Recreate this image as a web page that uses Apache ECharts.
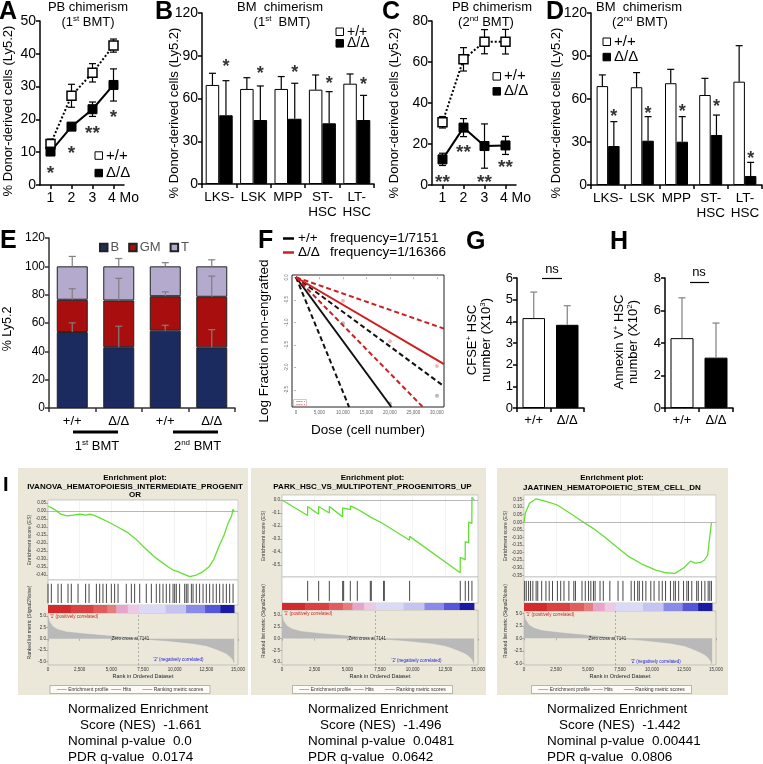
<!DOCTYPE html>
<html><head><meta charset="utf-8"><title>Figure</title>
<script src="https://cdn.jsdelivr.net/npm/echarts@6/dist/echarts.min.js"></script>
<style>html,body{margin:0;padding:0;background:#fff}#c{width:763px;height:764px}</style>
</head><body><div id="c"></div>
<script>
// ================= DATA =================
// Panel A: PB chimerism (1st BMT)
const aMonths = ['1', '2', '3', '4 Mo'];
const aWT = [12.5, 27.2, 34.2, 42.5];
const aWTerr = [1.5, 3.5, 2.8, 2.0];
const aKO = [10.2, 17.8, 23.1, 30.5];
const aKOerr = [1.0, 1.0, 2.2, 4.9];
const aStarVal = [5.2, 11.3, 17.4, 22.3];
const aStarTxt = ['*', '*', '**', '*'];
// Panel C: PB chimerism (2nd BMT)
const cMonths = ['1', '2', '3', '4 Mo'];
const cWT = [30.6, 61.3, 69.9, 69.9];
const cWTerr = [2.8, 5.7, 5.9, 6.0];
const cKO = [12.5, 28.0, 19.0, 19.3];
const cKOerr = [3.0, 4.4, 10.8, 4.4];
const cStarVal = [4.1, 18.7, 4.1, 11.4];
const cStarTxt = ['**', '**', '**', '**'];
// Panels B, D: BM chimerism
const popCats = ['LKS-', 'LSK', 'MPP', 'ST-\nHSC', 'LT-\nHSC'];
const bWT = [69.5, 66.7, 66.7, 66.2, 70.4];
const bWTtop = [77.7, 74.6, 75.4, 76.5, 77.2];
const bKO = [48.2, 44.9, 45.8, 42.6, 44.9];
const bKOtop = [72.5, 68.8, 70.7, 64.8, 62.2];
const bStarVal = [85.6, 80.7, 82.0, 74.0, 73.5];
const dWT = [69.0, 68.2, 71.0, 62.8, 72.1];
const dWTtop = [76.8, 78.4, 80.7, 74.4, 97.2];
const dKO = [27.2, 30.9, 30.2, 34.9, 6.3];
const dKOtop = [44.2, 47.7, 47.7, 48.8, 15.8];
const dStarVal = [51.0, 53.5, 55.0, 58.0, 21.6];
// Panel E: lineage composition
const eCats = ['+/+', 'Δ/Δ', '+/+', 'Δ/Δ'];
const eB = [53.6, 42.9, 54.6, 42.8];
const eGM = [22.8, 33.0, 24.3, 35.7];
const eT = [23.6, 24.1, 21.1, 21.5];
const eBerrTop = [60.1, 57.7, 58.4, 55.3];
const eGMerrTop = [84.2, 91.5, 82.0, 93.1];
const eTerrTop = [107.0, 105.5, 102.6, 104.6];
// Panel F: limiting dilution (endpoints)
const fDoseTicks = [0, 5000, 10000, 15000, 20000, 25000, 30000];
const fLogTicks = [0, -0.5, -1.0, -1.5, -2.0, -2.5];
const fWTest = [[0, 0], [20300, -2.88]];
const fWTlow = [[0, 0], [11300, -2.88]];
const fWThigh = [[0, 0], [31500, -2.42]];
const fKOest = [[0, 0], [31500, -1.93]];
const fKOlow = [[0, 0], [27000, -2.88]];
const fKOhigh = [[0, 0], [31500, -1.14]];
const fPtsKO = [[10000, -0.52], [20000, -1.42], [30000, -1.97]];
const fPtsWT = [[10000, -1.02], [20000, -2.80], [30000, -2.63]];
// Panels G, H
const ghCats = ['+/+', 'Δ/Δ'];
const gVals = [4.15, 3.84];
const gErrTop = [5.35, 4.72];
const hVals = [4.3, 3.1];
const hErrTop = [6.78, 5.23];
// Panel I: GSEA
const gseaTitle = [
  ['Enrichment plot:', 'IVANOVA_HEMATOPOIESIS_INTERMEDIATE_PROGENIT', 'OR'],
  ['Enrichment plot:', 'PARK_HSC_VS_MULTIPOTENT_PROGENITORS_UP'],
  ['Enrichment plot:', 'JAATINEN_HEMATOPOIETIC_STEM_CELL_DN']
];
const es1R = [0, 300, 700, 1000, 1500, 2000, 2500, 3000, 3300, 3600, 4000, 4800, 5500, 6200, 7000, 7500, 8300, 8800, 9500, 9900, 10300, 10900, 11200, 11700, 12200, 12700, 13100, 13500, 13900, 14200, 14500, 14600, 14700];
const es1V = [0.03, 0.02, 0.0, -0.02, -0.03, -0.025, -0.02, -0.025, -0.02, -0.025, -0.04, -0.07, -0.10, -0.13, -0.18, -0.22, -0.28, -0.31, -0.35, -0.37, -0.38, -0.40, -0.41, -0.40, -0.38, -0.35, -0.30, -0.22, -0.15, -0.08, -0.03, 0.01, 0.0];
const es2R = [0, 1960, 1965, 2800, 2805, 3620, 3625, 4640, 4645, 4715, 4720, 5225, 5230, 5760, 5765, 6750, 6755, 6830, 6835, 7775, 7780, 9760, 9765, 13640, 13645, 14020, 14025, 14280, 14285, 14530, 14535, 14700];
const es2V = [0, -0.12, -0.05, -0.11, -0.05, -0.10, -0.05, -0.13, -0.06, -0.07, -0.05, -0.075, -0.046, -0.07, -0.06, -0.13, -0.12, -0.13, -0.12, -0.185, -0.175, -0.31, -0.28, -0.56, -0.44, -0.46, -0.32, -0.33, -0.17, -0.18, 0.02, 0.0];
const es3R = [0, 100, 430, 950, 1400, 1850, 2600, 3600, 4500, 5400, 6200, 7200, 8200, 9300, 10300, 11100, 11800, 12500, 13000, 13400, 13800, 14100, 14350, 14480, 14640];
const es3V = [0, 0.06, 0.125, 0.155, 0.145, 0.135, 0.114, 0.06, 0.008, -0.04, -0.09, -0.16, -0.227, -0.28, -0.315, -0.333, -0.337, -0.30, -0.256, -0.27, -0.265, -0.249, -0.216, -0.117, -0.005];
const hits1 = [0, 263, 790, 1050, 1580, 1840, 2370, 2970, 3240, 3820, 4080, 4340, 4610, 5000, 5260, 5530, 6180, 6580, 6840, 7240, 7760, 8160, 8550, 8820, 9080, 9340, 9610, 9870, 10000, 10130, 10390, 10790, 10920, 11050, 11320, 11450, 11710, 11970, 12240, 12500, 12760, 13030, 13290, 13550, 13820, 14080, 14340, 14610];
const hits2 = [1964, 2805, 3621, 4641, 4718, 5228, 5763, 6758, 6834, 7778, 7829, 9767, 13643, 14025, 14280, 14535];
const hits3 = [51, 179, 358, 512, 691, 947, 1075, 1382, 1715, 1971, 2227, 2611, 2867, 3123, 3507, 3891, 4019, 4531, 4787, 5043, 5222, 5427, 5555, 5939, 6195, 6707, 7347, 7731, 8371, 8627, 8883, 9011, 9267, 9523, 9907, 10163, 10547, 10803, 11059, 11443, 11699, 11827, 12083, 12467, 12723, 12851, 13107, 13491, 13619, 13875, 14131, 14387, 14515, 14643];
const metricR = [0, 100, 400, 800, 1450, 3000, 4870, 6700, 7141, 9340, 11450, 12500, 13030, 13600, 14080, 14400, 14600, 14700];
const metricV = [4.8, 3.8, 2.6, 2.0, 1.5, 1.05, 0.6, 0.15, 0, -0.4, -1.0, -1.5, -2.0, -2.6, -3.2, -3.9, -4.6, -5.3];
const metricTicks = [5, 2.5, 0, -2.5, -5];
const cbStart = [0, 1800, 3600, 4700, 5400, 6300, 7200, 9300, 10900, 12400, 13600];
const cbEnd = [1800, 3600, 4700, 5400, 6300, 7200, 9300, 10900, 12400, 13600, 14700];
const zeroCross = 7141;
const nesVal = ['-1.661', '-1.496', '-1.442'];
const pVal = ['0.0', '0.0481', '0.00441'];
const qVal = ['0.0174', '0.0642', '0.0806'];

// ================= STYLE / LAYOUT =================
const FONT = '"Liberation Sans", Arial, Helvetica, sans-serif';
const BLK = '#000';
const cbColors = ['#d32b2b', '#da4242', '#e05d5d', '#e57d7d', '#e8a5cb', '#eec9e6', '#dadaf6', '#c4c4f0', '#8a8ae8', '#5656d8', '#1a1aa4'];
const gCfg = [
  {bgX: 18, bgW: 230, pL: 48, pW: 190, titleX: 135, titleY: [478, 486.5, 494.5], esTop: 500, esH: 80, esMin: -0.431, esMax: 0.069,
   esTicks: [0.05, 0, -0.05, -0.1, -0.15, -0.2, -0.25, -0.3, -0.35, -0.4], esDec: 2, hitsTop: 580, hitsH: 25, cbTop: 605, cbH: 8,
   mTop: 613, mH: 52, mMin: -5.73, mMax: 5.66, textX: 68, legX: 130},
  {bgX: 251, bgW: 235, pL: 282, pW: 196, titleX: 372.5, titleY: [478, 487], esTop: 495, esH: 82, esMin: -0.592, esMax: 0.038,
   esTicks: [0, -0.1, -0.2, -0.3, -0.4, -0.5], esDec: 1, hitsTop: 577, hitsH: 26, cbTop: 603, cbH: 7,
   mTop: 610, mH: 55, mMin: -5.58, mMax: 6.05, textX: 308, legX: 372.5},
  {bgX: 497, bgW: 231, pL: 524, pW: 192, titleX: 612, titleY: [478, 488], esTop: 495, esH: 82, esMin: -0.361, esMax: 0.18,
   esTicks: [0.15, 0.1, 0.05, 0, -0.05, -0.1, -0.15, -0.2, -0.25, -0.3, -0.35], esDec: 2, hitsTop: 577, hitsH: 26, cbTop: 603, cbH: 8,
   mTop: 611, mH: 54, mMin: -5.34, mMax: 5.46, textX: 547, legX: 611.5}
];

const opt = {animation: false, backgroundColor: '#fff', textStyle: {fontFamily: FONT},
  grid: [], xAxis: [], yAxis: [], series: [], legend: [], graphic: []};

function addGrid(g, xa, ya) {
  const i = opt.grid.length;
  opt.grid.push(Object.assign({containLabel: false, show: false}, g));
  opt.xAxis.push(Object.assign({gridIndex: i}, xa));
  opt.yAxis.push(Object.assign({gridIndex: i}, ya));
  return i;
}
function valAxis(min, max, interval, fs, color) {
  color = color || BLK;
  return {type: 'value', min: min, max: max, interval: interval,
    axisLine: {show: true, lineStyle: {color: color, width: 1.5}},
    axisTick: {show: true, length: 4, lineStyle: {color: color, width: 1.5}},
    splitLine: {show: false},
    axisLabel: {color: BLK, fontSize: fs, margin: 4, fontFamily: FONT}};
}
function catAxis(data, fs, extra, color) {
  color = color || BLK;
  const a = {type: 'category', data: data, boundaryGap: true,
    axisLine: {show: true, lineStyle: {color: color, width: 1.5}},
    axisTick: {show: true, length: 4, lineStyle: {color: color, width: 1.5}},
    axisLabel: {color: BLK, fontSize: fs, margin: 6, fontFamily: FONT, interval: 0, lineHeight: 15},
    splitLine: {show: false}};
  if (extra) {
    if (extra.axisLabel) Object.assign(a.axisLabel, extra.axisLabel);
    if (extra.axisTick) Object.assign(a.axisTick, extra.axisTick);
  }
  return a;
}
function txt(text, x, y, o) {
  o = o || {};
  const st = {text: text, fill: o.color || '#000', fontSize: o.fs || 13, fontFamily: FONT,
    fontWeight: o.bold ? 'bold' : 'normal', textAlign: o.align || 'center', textVerticalAlign: o.va || 'middle',
    align: o.align || 'center', verticalAlign: o.va || 'middle'};
  if (o.rich) st.rich = o.rich;
  if (o.lh) st.lineHeight = o.lh;
  opt.graphic.push({type: 'text', x: x, y: y, rotation: o.rot || 0, z: 100, silent: true, style: st});
}
function gline(x1, y1, x2, y2, color, w, dash) {
  const st = {stroke: color || '#000', lineWidth: w || 1};
  if (dash) st.lineDash = dash;
  opt.graphic.push({type: 'line', z: 100, silent: true, shape: {x1: x1, y1: y1, x2: x2, y2: y2}, style: st});
}
function grect(x, y, w, h, fill, stroke, lw, z) {
  opt.graphic.push({type: 'rect', z: z === undefined ? 100 : z, silent: true, shape: {x: x, y: y, width: w, height: h},
    style: {fill: fill || 'none', stroke: stroke || null, lineWidth: lw || 0}});
}
function supRich(fs, sfs) {
  return {n: {fontSize: fs, fontFamily: FONT, lineHeight: fs + 2}, s: {fontSize: sfs, fontFamily: FONT, verticalAlign: 'top', lineHeight: sfs}};
}
function errSeries(gi, data, o) {
  o = o || {};
  return {type: 'custom', xAxisIndex: gi, yAxisIndex: gi, z: o.z || 4, silent: true, data: data,
    renderItem: function (params, api) {
      const x = api.value(0), lo = api.value(1), hi = api.value(2);
      const ph = api.coord([x, hi]), pl = api.coord([x, lo]);
      const cx = ph[0] + (o.dx || 0), cw = o.cap || 3.5;
      const st = {stroke: o.color || '#000', lineWidth: o.lw || 1.2};
      const ch = [
        {type: 'line', shape: {x1: cx, y1: ph[1], x2: cx, y2: pl[1]}, style: st},
        {type: 'line', shape: {x1: cx - cw, y1: ph[1], x2: cx + cw, y2: ph[1]}, style: st}
      ];
      if (o.both) ch.push({type: 'line', shape: {x1: cx - cw, y1: pl[1], x2: cx + cw, y2: pl[1]}, style: st});
      return {type: 'group', children: ch};
    }};
}
function starSeries(gi, vals, texts, dx, fs) {
  return {type: 'scatter', xAxisIndex: gi, yAxisIndex: gi, symbolSize: 0, silent: true, z: 6,
    itemStyle: {color: 'transparent'},
    data: vals.map(function (v, i) { return {value: [i, v], label: {formatter: texts[i]}}; }),
    label: {show: true, position: 'inside', offset: [dx, fs * 0.3], fontSize: fs, fontWeight: 'bold', color: '#000', fontFamily: FONT}};
}
function squareLegend(x, y1, y2, fs) {
  grect(x, y1 - 3.7, 7.5, 7.5, '#fff', '#000', 1);
  txt('+/+', x + 11, y1, {fs: fs, align: 'left'});
  grect(x, y2 - 3.7, 7.5, 7.5, '#000', '#000', 1);
  txt('Δ/Δ', x + 11, y2, {fs: fs, align: 'left'});
}

// ================= PANEL A =================
const monthLabel = {formatter: function (v) { return v === '4 Mo' ? '{m|4 Mo}' : v; },
  rich: {m: {fontSize: 14, fontFamily: FONT, padding: [0, 0, 0, 20]}}};
const gA = addGrid({left: 40, top: 21, width: 84, height: 164},
  catAxis(aMonths, 14, {axisLabel: monthLabel, axisTick: {alignWithLabel: true}}), valAxis(0, 50, 10, 14));
opt.series.push(errSeries(gA, aWT.map(function (v, i) { return [i, v - aWTerr[i], v + aWTerr[i]]; }), {both: true}));
opt.series.push(errSeries(gA, aKO.map(function (v, i) { return [i, v - aKOerr[i], v + aKOerr[i]]; }), {both: true}));
opt.series.push({type: 'line', name: '+/+', xAxisIndex: gA, yAxisIndex: gA, data: aWT, z: 5, symbol: 'rect', symbolSize: 9, silent: true,
  lineStyle: {color: BLK, width: 2, type: [2, 2]}, itemStyle: {color: '#fff', borderColor: BLK, borderWidth: 1.5}});
opt.series.push({type: 'line', name: 'Δ/Δ', xAxisIndex: gA, yAxisIndex: gA, data: aKO, z: 5, symbol: 'rect', symbolSize: 9, silent: true,
  lineStyle: {color: BLK, width: 2}, itemStyle: {color: BLK, borderColor: BLK, borderWidth: 1}});
opt.series.push(starSeries(gA, aStarVal, aStarTxt, 0, 19));
squareLegend(95, 155.5, 173, 15);

// ================= PANEL C =================
const gC = addGrid({left: 432, top: 21, width: 84, height: 164},
  catAxis(cMonths, 14, {axisLabel: monthLabel, axisTick: {alignWithLabel: true}}), valAxis(0, 80, 20, 14));
opt.series.push(errSeries(gC, cWT.map(function (v, i) { return [i, v - cWTerr[i], v + cWTerr[i]]; }), {both: true}));
opt.series.push(errSeries(gC, cKO.map(function (v, i) { return [i, v - cKOerr[i], v + cKOerr[i]]; }), {both: true}));
opt.series.push({type: 'line', name: '+/+', xAxisIndex: gC, yAxisIndex: gC, data: cWT, z: 5, symbol: 'rect', symbolSize: 9, silent: true,
  lineStyle: {color: BLK, width: 2, type: [2, 2]}, itemStyle: {color: '#fff', borderColor: BLK, borderWidth: 1.5}});
opt.series.push({type: 'line', name: 'Δ/Δ', xAxisIndex: gC, yAxisIndex: gC, data: cKO, z: 5, symbol: 'rect', symbolSize: 9, silent: true,
  lineStyle: {color: BLK, width: 2}, itemStyle: {color: BLK, borderColor: BLK, borderWidth: 1}});
opt.series.push(starSeries(gC, cStarVal, cStarTxt, 0, 19));
squareLegend(493, 76.3, 91.3, 15);

// ================= PANEL B =================
const gB = addGrid({left: 202, top: 13, width: 172, height: 171}, catAxis(popCats, 13.5), valAxis(0, 120, 30, 14));
opt.series.push({type: 'bar', name: '+/+', xAxisIndex: gB, yAxisIndex: gB, data: bWT, barWidth: 13.5, barGap: '0%', silent: true,
  itemStyle: {color: '#fff', borderColor: BLK, borderWidth: 1}});
opt.series.push({type: 'bar', name: 'Δ/Δ', xAxisIndex: gB, yAxisIndex: gB, data: bKO, barWidth: 13.5, barGap: '0%', silent: true,
  itemStyle: {color: BLK, borderColor: BLK, borderWidth: 1}});
opt.series.push(errSeries(gB, bWT.map(function (v, i) { return [i, v, bWTtop[i]]; }), {dx: -6.75}));
opt.series.push(errSeries(gB, bKO.map(function (v, i) { return [i, v, bKOtop[i]]; }), {dx: 6.75}));
opt.series.push(starSeries(gB, bStarVal, popCats.map(function () { return '*'; }), 6.75, 18));
squareLegend(336, 31.7, 43.3, 14);

// ================= PANEL D =================
const gD = addGrid({left: 591, top: 13, width: 171, height: 172}, catAxis(popCats, 13.5), valAxis(0, 120, 30, 14));
opt.series.push({type: 'bar', name: '+/+', xAxisIndex: gD, yAxisIndex: gD, data: dWT, barWidth: 11.5, barGap: '0%', silent: true,
  itemStyle: {color: '#fff', borderColor: BLK, borderWidth: 1}});
opt.series.push({type: 'bar', name: 'Δ/Δ', xAxisIndex: gD, yAxisIndex: gD, data: dKO, barWidth: 11.5, barGap: '0%', silent: true,
  itemStyle: {color: BLK, borderColor: BLK, borderWidth: 1}});
opt.series.push(errSeries(gD, dWT.map(function (v, i) { return [i, v, dWTtop[i]]; }), {dx: -5.75}));
opt.series.push(errSeries(gD, dKO.map(function (v, i) { return [i, v, dKOtop[i]]; }), {dx: 5.75}));
opt.series.push(starSeries(gD, dStarVal, popCats.map(function () { return '*'; }), 5.75, 18));
squareLegend(603, 41.7, 57, 15);

// titles, letters, y-titles for top row
const r13 = supRich(13, 8);
txt('PB chimerism', 88, 7, {fs: 13});
txt('{n|(1}{s|st}{n| BMT)}', 88, 22, {rich: r13});
txt('BM  chimerism', 280, 7, {fs: 13});
txt('{n|(1}{s|st}{n|  BMT)}', 282, 22, {rich: r13});
txt('PB chimerism', 492, 7, {fs: 13});
txt('{n|(2}{s|nd}{n| BMT)}', 486, 22, {rich: r13});
txt('BM  chimerism', 639, 7, {fs: 13});
txt('{n|(2}{s|nd}{n| BMT)}', 640, 22, {rich: r13});
['A', 'B', 'C', 'D'].forEach(function (L, i) { txt(L, [-1, 155, 382, 546][i], 12, {fs: 25, bold: true, align: 'left'}); });
[[8, 111], [174, 113], [394, 113], [556, 113]].forEach(function (p) {
  txt('% Donor-derived cells (Ly5.2)', p[0], p[1], {fs: 13, rot: Math.PI / 2});
});

// ================= PANEL E =================
const gE = addGrid({left: 49, top: 238, width: 186, height: 170}, catAxis(eCats, 13, null, '#333'), valAxis(0, 120, 20, 12, '#333'));
const eCols = ['#1b2a5f', '#a80e0e', '#b4aacd'];
[['B', eB], ['GM', eGM], ['T', eT]].forEach(function (s, k) {
  opt.series.push({type: 'bar', name: s[0], stack: 'lin', xAxisIndex: gE, yAxisIndex: gE, data: s[1], barWidth: 31, silent: true,
    itemStyle: {color: eCols[k], borderColor: '#222', borderWidth: 1}});
});
opt.series.push(errSeries(gE, eB.map(function (v, i) { return [i, v, eBerrTop[i]]; }), {color: '#7f7f7f', z: 6}));
opt.series.push(errSeries(gE, eB.map(function (v, i) { return [i, v + eGM[i], eGMerrTop[i]]; }), {color: '#7f7f7f', z: 6}));
opt.series.push(errSeries(gE, eB.map(function (v, i) { return [i, v + eGM[i] + eT[i], eTerrTop[i]]; }), {color: '#7f7f7f', z: 6}));
opt.legend.push({left: 94, top: 236, itemWidth: 7.5, itemHeight: 7.5, itemGap: 9, icon: 'rect', selectedMode: false,
  textStyle: {fontSize: 13, color: '#555', fontFamily: FONT, padding: [0, 0, 0, -2]}, data: ['B', 'GM', 'T']});
txt('E', 0, 241.5, {fs: 25, bold: true, align: 'left'});
txt('% Ly5.2', 8, 329, {fs: 12.5, rot: Math.PI / 2});
gline(73, 432, 118, 432, '#000', 3);
gline(173, 432, 218, 432, '#000', 3);
txt('{n|1}{s|st}{n| BMT}', 97, 446, {rich: r13});
txt('{n|2}{s|nd}{n| BMT}', 197.5, 446, {rich: r13});

// ================= PANEL F =================
const gF = addGrid({left: 292, top: 275, width: 152, height: 132, show: true, borderColor: '#222', borderWidth: 1},
  {type: 'value', min: -850, max: 31500, axisLine: {show: false}, splitLine: {show: false},
   axisTick: {show: true, length: 2, customValues: fDoseTicks, lineStyle: {color: '#666', width: 0.5}},
   axisLabel: {customValues: fDoseTicks, fontSize: 4.5, color: '#666', margin: 3}},
  {type: 'value', min: -2.88, max: 0.05, axisLine: {show: false}, splitLine: {show: false},
   axisTick: {show: true, length: 2, customValues: fLogTicks, lineStyle: {color: '#666', width: 0.5}},
   axisLabel: {customValues: fLogTicks, fontSize: 4.5, color: '#666', margin: 3, rotate: 90, formatter: function (v) { return v.toFixed(1); }}});
[[fWTest, '#111', 'solid'], [fWTlow, '#111', [5, 3]], [fWThigh, '#111', [5, 3]],
 [fKOest, '#cc1f1f', 'solid'], [fKOlow, '#cc1f1f', [5, 3]], [fKOhigh, '#cc1f1f', [5, 3]]].forEach(function (L) {
  opt.series.push({type: 'line', xAxisIndex: gF, yAxisIndex: gF, data: L[0], symbol: 'none', silent: true,
    lineStyle: {color: L[1], width: 2, type: L[2]}});
});
opt.series.push({type: 'scatter', xAxisIndex: gF, yAxisIndex: gF, data: fPtsKO, symbolSize: 4, silent: true, itemStyle: {color: '#f2a5a5'}});
opt.series.push({type: 'scatter', xAxisIndex: gF, yAxisIndex: gF, data: fPtsWT, symbolSize: 4, silent: true, itemStyle: {color: '#a8a8a8'}});
grect(293.5, 399.5, 13, 6.5, '#fff', '#999', 0.5);
txt('Group 1', 296, 401.5, {fs: 2.5, align: 'left', color: '#333'});
txt('Group 2', 296, 404, {fs: 2.5, align: 'left', color: '#cc1f1f'});
txt('F', 258, 241, {fs: 25, bold: true, align: 'left'});
gline(283, 238.5, 294, 238.5, '#000', 2.5);
txt('+/+', 298, 238.5, {fs: 13.5, align: 'left'});
txt('frequency=1/7151', 330, 238.5, {fs: 13.5, align: 'left'});
gline(283, 252.5, 294, 252.5, '#cc1f1f', 2.5);
txt('Δ/Δ', 298, 252.5, {fs: 13.5, align: 'left'});
txt('frequency=1/16366', 330, 252.5, {fs: 13.5, align: 'left'});
txt('Log Fraction non-engrafted', 264, 341, {fs: 13.5, rot: Math.PI / 2});
txt('Dose (cell number)', 368, 430, {fs: 13.5});

// ================= PANEL G =================
const gG = addGrid({left: 517, top: 278, width: 67, height: 130}, catAxis(ghCats, 13, {axisLabel: {margin: 5}}), valAxis(0, 6, 1, 13));
opt.series.push({type: 'bar', xAxisIndex: gG, yAxisIndex: gG, barWidth: 22.5, silent: true,
  data: gVals.map(function (v, i) { return {value: v, itemStyle: {color: i ? BLK : '#fff', borderColor: BLK, borderWidth: 1}}; })});
opt.series.push(errSeries(gG, gVals.map(function (v, i) { return [i, v, gErrTop[i]]; }), {color: '#808080'}));
txt('G', 466, 242, {fs: 25, bold: true, align: 'left'});
txt('ns', 552, 269, {fs: 13});
gline(542, 278.5, 562, 278.5, '#000', 1.2);
txt('{n|CFSE}{s|+}{n| HSC}', 472, 340, {rot: Math.PI / 2, rich: supRich(13, 8)});
txt('{n|number (X10}{s|3}{n|)}', 486, 340, {rot: Math.PI / 2, rich: supRich(13, 8)});

// ================= PANEL H =================
const gH = addGrid({left: 665, top: 278, width: 68, height: 130}, catAxis(ghCats, 13, {axisLabel: {margin: 5}}), valAxis(0, 8, 2, 13));
opt.series.push({type: 'bar', xAxisIndex: gH, yAxisIndex: gH, barWidth: 23, silent: true,
  data: hVals.map(function (v, i) { return {value: v, itemStyle: {color: i ? BLK : '#fff', borderColor: BLK, borderWidth: 1}}; })});
opt.series.push(errSeries(gH, hVals.map(function (v, i) { return [i, v, hErrTop[i]]; }), {color: '#808080'}));
txt('H', 610, 242, {fs: 25, bold: true, align: 'left'});
txt('ns', 699, 272, {fs: 13});
gline(690, 282.5, 709, 282.5, '#000', 1.2);
txt('{n|Annexin V}{s|+}{n| HSC}', 619, 342, {rot: Math.PI / 2, rich: supRich(13, 8)});
txt('{n|number (X10}{s|2}{n|)}', 633, 342, {rot: Math.PI / 2, rich: supRich(13, 8)});

// ================= PANEL I (GSEA) =================
txt('I', 3, 485, {fs: 20, bold: true, align: 'left'});
function gsea(k, esR, esV, hits) {
  const c = gCfg[k];
  grect(c.bgX, 468, c.bgW, 227, '#ebe8d9', null, 0, -100);
  gseaTitle[k].forEach(function (t, i) { txt(t, c.titleX, c.titleY[i], {fs: 8, bold: true}); });
  const smallLab = {fontSize: 4.5, color: '#333', margin: 2, fontFamily: FONT};
  // ES panel
  const ge = addGrid({left: c.pL, top: c.esTop, width: c.pW, height: c.esH, show: true, backgroundColor: '#fff', borderColor: '#999', borderWidth: 0.5},
    {type: 'value', min: 0, max: 15000, interval: 2500, axisLine: {show: false}, axisTick: {show: false}, axisLabel: {show: false},
     splitLine: {show: true, lineStyle: {color: '#e6e6e6', width: 0.5}}},
    {type: 'value', min: c.esMin, max: c.esMax, axisLine: {show: false}, splitLine: {show: false},
     axisTick: {show: true, length: 2, customValues: c.esTicks, lineStyle: {color: '#777', width: 0.5}},
     axisLabel: Object.assign({customValues: c.esTicks, formatter: function (v) { return v.toFixed(c.esDec); }}, smallLab)});
  opt.series.push({type: 'line', xAxisIndex: ge, yAxisIndex: ge, data: esR.map(function (r, i) { return [r, esV[i]]; }),
    symbol: 'none', silent: true, lineStyle: {color: '#62e034', width: 1.3},
    markLine: {silent: true, symbol: 'none', label: {show: false}, lineStyle: {color: '#9a9a9a', width: 0.7, type: 'solid'}, data: [{yAxis: 0}]}});
  // hits panel
  const gh = addGrid({left: c.pL, top: c.hitsTop, width: c.pW, height: c.hitsH, show: true, backgroundColor: '#fff', borderColor: '#999', borderWidth: 0.5},
    {type: 'value', min: 0, max: 15000, show: false}, {type: 'value', min: 0, max: 1, show: false});
  opt.series.push({type: 'custom', xAxisIndex: gh, yAxisIndex: gh, silent: true, data: hits.map(function (r) { return [r, 1]; }),
    renderItem: function (p, api) {
      const a = api.coord([api.value(0), 0.08]), b = api.coord([api.value(0), 0.85]);
      return {type: 'line', shape: {x1: a[0], y1: a[1], x2: b[0], y2: b[1]}, style: {stroke: '#1a1a1a', lineWidth: 0.8}};
    }});
  // color bar
  const gc = addGrid({left: c.pL, top: c.cbTop, width: c.pW, height: c.cbH},
    {type: 'value', min: 0, max: 15000, show: false}, {type: 'value', min: 0, max: 1, show: false});
  opt.series.push({type: 'custom', xAxisIndex: gc, yAxisIndex: gc, silent: true, data: cbStart.map(function (s, i) { return [s, cbEnd[i], i]; }),
    renderItem: function (p, api) {
      const a = api.coord([api.value(0), 1]), b = api.coord([api.value(1), 0]);
      return {type: 'rect', shape: {x: a[0], y: a[1], width: b[0] - a[0] + 0.3, height: b[1] - a[1]}, style: {fill: cbColors[api.value(2)]}};
    }});
  // ranked metric panel
  const gm = addGrid({left: c.pL, top: c.mTop, width: c.pW, height: c.mH, show: true, backgroundColor: 'rgba(255,255,255,0)', borderColor: '#999', borderWidth: 0.5},
    {type: 'value', min: 0, max: 15000, interval: 2500, axisLine: {show: false}, splitLine: {show: false},
     axisTick: {show: true, length: 2, lineStyle: {color: '#777', width: 0.5}},
     axisLabel: Object.assign({formatter: function (v) { return v.toLocaleString('en-US'); }}, smallLab)},
    {type: 'value', min: c.mMin, max: c.mMax, axisLine: {show: false}, splitLine: {show: false},
     axisTick: {show: true, length: 2, customValues: metricTicks, lineStyle: {color: '#777', width: 0.5}},
     axisLabel: Object.assign({customValues: metricTicks, formatter: function (v) { return v.toFixed(1); }}, smallLab)});
  opt.series.push({type: 'line', xAxisIndex: gm, yAxisIndex: gm, data: metricR.map(function (r, i) { return [r, metricV[i]]; }),
    symbol: 'none', silent: true, lineStyle: {color: '#b0b0b0', width: 0.5}, areaStyle: {color: '#b9b9b9', opacity: 1, origin: 'auto'},
    markLine: {silent: true, symbol: 'none', label: {show: false}, lineStyle: {color: '#888', width: 0.6, type: [2, 2]}, data: [{xAxis: zeroCross}]}});
  const xr = function (r) { return c.pL + r / 15000 * c.pW; };
  const ym = function (v) { return c.mTop + (c.mMax - v) / (c.mMax - c.mMin) * c.mH; };
  txt("'1' (positively correlated)", c.pL + 2, c.mTop + 3.5, {fs: 4.5, align: 'left', color: '#d02020'});
  txt('Zero cross at 7141', xr(zeroCross) - 8, ym(0), {fs: 4.5, color: '#222'});
  txt("'2' (negatively correlated)", xr(10300), ym(-4.6), {fs: 4.5, color: '#2020d0'});
  txt('Enrichment score (ES)', c.pL - 18, c.esTop + c.esH / 2, {fs: 5, rot: Math.PI / 2, color: '#333'});
  txt('Ranked list metric (Signal2Noise)', c.pL - 18, (c.hitsTop + c.mTop + c.mH) / 2, {fs: 5, rot: Math.PI / 2, color: '#333'});
  txt('Rank in Ordered Dataset', c.pL + c.pW / 2, c.mTop + c.mH + 11, {fs: 5.5, color: '#222'});
  grect(c.legX - 80, 685.5, 160, 8, '#fbfbf7', '#777', 0.5);
  txt('{g|——} Enrichment profile  {k|——} Hits        {l|——} Ranking metric scores', c.legX, 689.5, {fs: 5,
    rich: {g: {fontSize: 5, fontFamily: FONT, color: '#62e034'}, k: {fontSize: 5, fontFamily: FONT, color: '#111'},
           l: {fontSize: 5, fontFamily: FONT, color: '#bbb'}}, color: '#333'});
  // NES text
  txt('Normalized Enrichment', c.textX, 709, {fs: 13.5, align: 'left'});
  txt('Score (NES)  ' + nesVal[k], c.textX + 12, 725, {fs: 13.5, align: 'left'});
  txt('Nominal p-value  ' + pVal[k], c.textX, 741, {fs: 13.5, align: 'left'});
  txt('PDR q-value  ' + qVal[k], c.textX, 757, {fs: 13.5, align: 'left'});
}
gsea(0, es1R, es1V, hits1);
gsea(1, es2R, es2V, hits2);
gsea(2, es3R, es3V, hits3);

const chart = echarts.init(document.getElementById('c'), null, {renderer: 'canvas', width: 763, height: 764});
chart.setOption(opt);
</script></body></html>
